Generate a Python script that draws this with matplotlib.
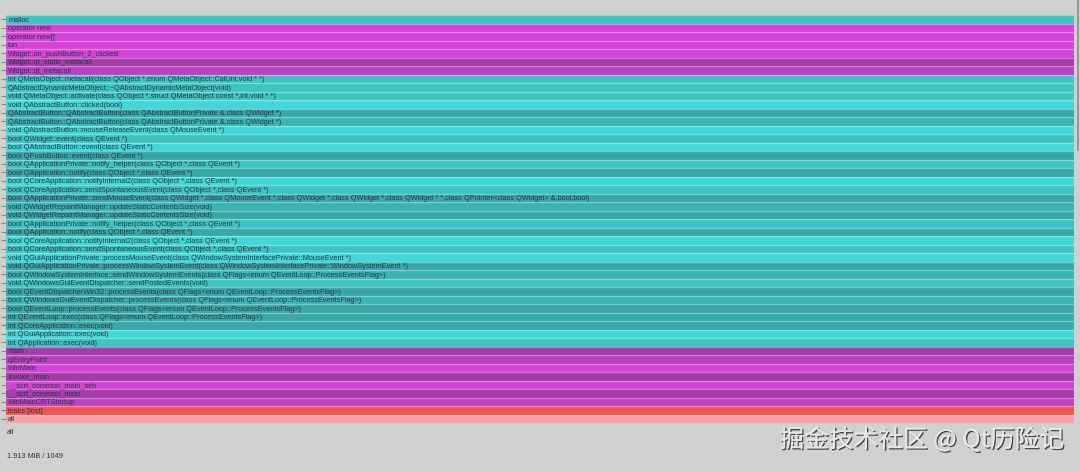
import matplotlib
matplotlib.use("Agg")
import matplotlib.pyplot as plt
import matplotlib.patheffects as pe
from matplotlib.lines import Line2D

# stack frames, top (leaf) to bottom (root)
frames = [
    "malloc",
    "operator new",
    "operator new[]",
    "fun",
    "Widget::on_pushButton_2_clicked",
    "Widget::qt_static_metacall",
    "Widget::qt_metacall",
    "int QMetaObject::metacall(class QObject *,enum QMetaObject::Call,int,void * *)",
    "QAbstractDynamicMetaObject::~QAbstractDynamicMetaObject(void)",
    "void QMetaObject::activate(class QObject *,struct QMetaObject const *,int,void * *)",
    "void QAbstractButton::clicked(bool)",
    "QAbstractButton::QAbstractButton(class QAbstractButtonPrivate &,class QWidget *)",
    "QAbstractButton::QAbstractButton(class QAbstractButtonPrivate &,class QWidget *)",
    "void QAbstractButton::mouseReleaseEvent(class QMouseEvent *)",
    "bool QWidget::event(class QEvent *)",
    "bool QAbstractButton::event(class QEvent *)",
    "bool QPushButton::event(class QEvent *)",
    "bool QApplicationPrivate::notify_helper(class QObject *,class QEvent *)",
    "bool QApplication::notify(class QObject *,class QEvent *)",
    "bool QCoreApplication::notifyInternal2(class QObject *,class QEvent *)",
    "bool QCoreApplication::sendSpontaneousEvent(class QObject *,class QEvent *)",
    "bool QApplicationPrivate::sendMouseEvent(class QWidget *,class QMouseEvent *,class QWidget *,class QWidget *,class QWidget * *,class QPointer<class QWidget> &,bool,bool)",
    "void QWidgetRepaintManager::updateStaticContentsSize(void)",
    "void QWidgetRepaintManager::updateStaticContentsSize(void)",
    "bool QApplicationPrivate::notify_helper(class QObject *,class QEvent *)",
    "bool QApplication::notify(class QObject *,class QEvent *)",
    "bool QCoreApplication::notifyInternal2(class QObject *,class QEvent *)",
    "bool QCoreApplication::sendSpontaneousEvent(class QObject *,class QEvent *)",
    "void QGuiApplicationPrivate::processMouseEvent(class QWindowSystemInterfacePrivate::MouseEvent *)",
    "void QGuiApplicationPrivate::processWindowSystemEvent(class QWindowSystemInterfacePrivate::WindowSystemEvent *)",
    "bool QWindowSystemInterface::sendWindowSystemEvents(class QFlags<enum QEventLoop::ProcessEventsFlag>)",
    "void QWindowsGuiEventDispatcher::sendPostedEvents(void)",
    "bool QEventDispatcherWin32::processEvents(class QFlags<enum QEventLoop::ProcessEventsFlag>)",
    "bool QWindowsGuiEventDispatcher::processEvents(class QFlags<enum QEventLoop::ProcessEventsFlag>)",
    "bool QEventLoop::processEvents(class QFlags<enum QEventLoop::ProcessEventsFlag>)",
    "int QEventLoop::exec(class QFlags<enum QEventLoop::ProcessEventsFlag>)",
    "int QCoreApplication::exec(void)",
    "int QGuiApplication::exec(void)",
    "int QApplication::exec(void)",
    "main",
    "qtEntryPoint",
    "WinMain",
    "invoke_main",
    "__scrt_common_main_seh",
    "__scrt_common_main",
    "WinMainCRTStartup",
    "leaks [lost]",
    "all",
]

# every frame carries the whole leak (1.913 MiB, 1049 allocations)
total_bytes = 2005925
frame_bytes = [total_bytes] * len(frames)

# colour group per frame: c/d/b/e = cyan shades, m/p/v = magenta shades
shade = ["c", "m", "m", "m", "m", "p", "v",
         "c", "c", "c", "b", "d", "e", "b", "c", "b", "d", "c", "d", "b", "c", "d",
         "e", "d", "c", "d", "b", "c", "b", "d", "e", "c", "d", "e", "d", "d", "d",
         "b", "c",
         "p", "v", "m", "p", "m", "p", "v",
         "l", "a"]

palette = {
    "c": "#3fc4c4", "d": "#3aa8a8", "b": "#42d8d8", "e": "#3cb4b4",
    "m": "#d243d6", "p": "#a53da9", "v": "#bb42c0",
    "l": "#f25454", "a": "#f7a3a3",
}

bg = "#d0d0d0"
fig = plt.figure(figsize=(10.8, 4.72), dpi=100, facecolor=bg)
W, H = 1080, 472
ax = fig.add_axes([6 / W, 1 - 423 / H, 1068 / W, 408 / H])
ax.set_facecolor(bg)

n = len(frames)
ypos = list(range(n))
ax.barh(ypos, frame_bytes, height=1.0, left=0,
        color=[palette[s] for s in shade], linewidth=0)
# light separator at the top of each row
for y in ypos:
    ax.axhline(y - 0.5, color="white", alpha=0.35, lw=0.9)

for y, name in zip(ypos, frames):
    ax.annotate(name, (0, y), xytext=(1.5, -0.7), textcoords="offset points",
                va="center", ha="left", fontsize=5.3, color="#2a3848",
                family="Liberation Sans")

ax.set_xlim(0, total_bytes)
ax.set_ylim(n - 0.5, -0.5)
for s in ax.spines.values():
    s.set_visible(False)
ax.set_xticks([])
ax.set_yticks(ypos)
ax.set_yticklabels([])
ax.tick_params(axis="y", length=3.5, width=0.8, color="#8a8a8a", pad=0)

# scrollbar line on the right
fig.add_artist(Line2D([1078 / W, 1078 / W], [1, 1 - 150 / H],
                      color="#8c8c8c", lw=1.2))

fig.text(7 / W, 1 - 433 / H, "all", fontsize=5.3, color="#333333",
         va="center", family="Liberation Sans")
fig.text(7 / W, 1 - 456 / H, "1.913 MiB / 1049", fontsize=5.3,
         color="#333333", va="center", family="Liberation Sans")

fig.text(1064 / W, 1 - 440 / H, "掘金技术社区 @ Qt历险记", fontsize=17.8,
         family=["Noto Sans CJK SC", "DejaVu Sans"], color="#e6e6e6",
         ha="right", va="center",
         path_effects=[pe.withSimplePatchShadow(offset=(1, -1),
                                                shadow_rgbFace="#3a3a3a",
                                                alpha=0.9),
                       pe.Normal()])

fig.savefig("out.png", dpi=100, facecolor=bg)
